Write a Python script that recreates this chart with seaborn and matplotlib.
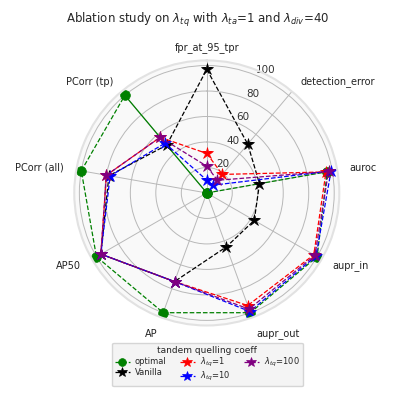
import numpy as np
import matplotlib
matplotlib.use("Agg")
import matplotlib.pyplot as plt
import seaborn as sns

metrics = ['fpr_at_95_tpr', 'detection_error', 'auroc', 'aupr_in', 'aupr_out',
           'AP', 'AP50', 'PCorr (all)', 'PCorr (tp)']
optimal = [0, 0, 96, 100, 100, 100, 100, 100, 100]
vanilla = [97, 50, 42, 43, 45, 74, 96, 78, 49]
tq_1 = [31, 19, 95, 97, 94, 74, 96, 80, 57]
tq_10 = [10, 8, 99, 99, 99, 74, 96, 77, 51]
tq_100 = [21, 13, 97, 98, 97, 74, 96, 80, 57]

series_names = ['optimal', 'Vanilla', r'$\lambda_{tq}$=1', r'$\lambda_{tq}$=10', r'$\lambda_{tq}$=100']
series_values = [optimal, vanilla, tq_1, tq_10, tq_100]
series_colors = ['green', 'black', 'red', 'blue', 'purple']
series_markers = ['o', '*', '*', '*', '*']

sns.set_style('white')

angles = np.linspace(0, 2 * np.pi, len(metrics), endpoint=False)
angles_closed = np.concatenate([angles, angles[:1]])

fig = plt.figure(figsize=(3.95, 3.95), dpi=100)
ax = fig.add_axes([0.188, 0.176, 0.671, 0.671], projection='polar')
ax.set_theta_offset(np.pi / 2)
ax.set_theta_direction(-1)
ax.set_facecolor('#f9f9f9')

for name, vals, col, mk in zip(series_names, series_values, series_colors, series_markers):
    vals_closed = list(vals) + [vals[0]]
    ms = 7 if mk == 'o' else 9
    sns.lineplot(x=angles_closed[:-1], y=vals_closed[:-1], sort=False, ax=ax, color=col,
                 marker=mk, markersize=ms, markeredgewidth=0.5, markeredgecolor=col,
                 linestyle='--', linewidth=0.9, label=name)
    # closing segment
    ls = '-' if name == 'optimal' else '--'
    sns.lineplot(x=angles_closed[-2:], y=vals_closed[-2:], sort=False, ax=ax, color=col,
                 linestyle=ls, linewidth=0.9, legend=False)

ax.set_ylim(0, 104)
ax.set_yticks([20, 40, 60, 80, 100])
ax.set_yticklabels(['20', '40', '60', '80', '100'], fontsize=7.5, color='#333333')
ax.set_rlabel_position(22.5)
ax.set_xticks(angles)
ax.set_xticklabels([])
ax.grid(True, color='#b8b8b8', linewidth=0.7)
ax.spines['polar'].set_color('#e2e2e2')
ax.spines['polar'].set_linewidth(1.5)
ax.set_xlabel('')
ax.set_ylabel('')

# metric names, aligned by side
for ang, name in zip(angles, metrics):
    deg = np.degrees(ang)
    if np.isclose(deg, 0) or np.isclose(deg, 180):
        ha = 'center'
    elif deg < 180:
        ha = 'left'
    else:
        ha = 'right'
    va = 'top' if np.cos(ang) < -0.8 else 'center'
    ax.text(ang, 114, name, ha=ha, va=va, fontsize=7, color='#222222', clip_on=False)

fig.suptitle(r'Ablation study on $\lambda_{tq}$ with $\lambda_{ta}$=1 and $\lambda_{div}$=40',
             fontsize=8.5, y=0.972)

handles, labels = ax.get_legend_handles_labels()
ax.legend_.remove()
fig.legend(handles, labels, loc='upper center', bbox_to_anchor=(0.525, 0.143), ncol=3,
           fontsize=6, title='tandem quelling coeff', title_fontsize=6.5, markerscale=0.8,
           handlelength=1.8, columnspacing=1.6, labelspacing=0.15, borderpad=0.35,
           handletextpad=0.6, frameon=True, facecolor='#f2f2f2', edgecolor='#cccccc')

fig.savefig('out.png', dpi=100)
